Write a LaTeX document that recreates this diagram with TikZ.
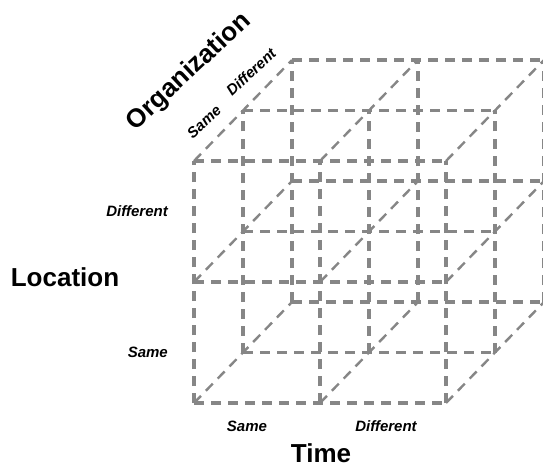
\documentclass[tikz,border=0pt]{standalone}
\usepackage{fontspec}
\setmainfont{Liberation Sans}
\definecolor{gridgray}{RGB}{134,134,134}
\begin{document}
\begin{tikzpicture}[x=1pt,y=-1pt,
  gridline/.style={draw=gridgray, line width=3.3pt, dash pattern=on 10pt off 7pt},
  diagline/.style={draw=gridgray, line width=2.4pt, dash pattern=on 10pt off 7pt},
  axislabel/.style={font=\bfseries\fontsize{26}{30}\selectfont, inner sep=0pt},
  vallabel/.style={font=\bfseries\itshape\fontsize{15}{18}\selectfont, inner sep=0pt}]
\useasboundingbox (0,0) rectangle (543,476);
% depth diagonals
\foreach \i in {0,1,2} {
  \foreach \j in {0,1,2} {
    \draw[diagline] (194+126*\i, 403-121*\j) -- ++(98,-101);
  }
}
% horizontal and vertical lines of each layer
\foreach \k in {0,1,2} {
  \foreach \j in {0,1,2} {
    \draw[gridline] (194+49*\k, 403-121*\j-50.5*\k) -- (446+49*\k, 403-121*\j-50.5*\k);
    \draw[gridline] (194+126*\j+49*\k, 403-50.5*\k) -- (194+126*\j+49*\k, 161-50.5*\k);
  }
}
% labels
\node[axislabel] (loc) at (65,277) {Location};
\node[axislabel] (time) at (321,453) {Time};
\node[axislabel, rotate=43] (org) at (189,72) {Organization};
\node[vallabel, anchor=east] (locdiff) at (168,211) {Different};
\node[vallabel, anchor=east] (locsame) at (168,352) {Same};
\node[vallabel] (timesame) at (247,426) {Same};
\node[vallabel] (timediff) at (386,426) {Different};
\node[vallabel, rotate=43] (orgsame) at (204,122) {Same};
\node[vallabel, rotate=43] (orgdiff) at (251,72) {Different};
\end{tikzpicture}
\end{document}
